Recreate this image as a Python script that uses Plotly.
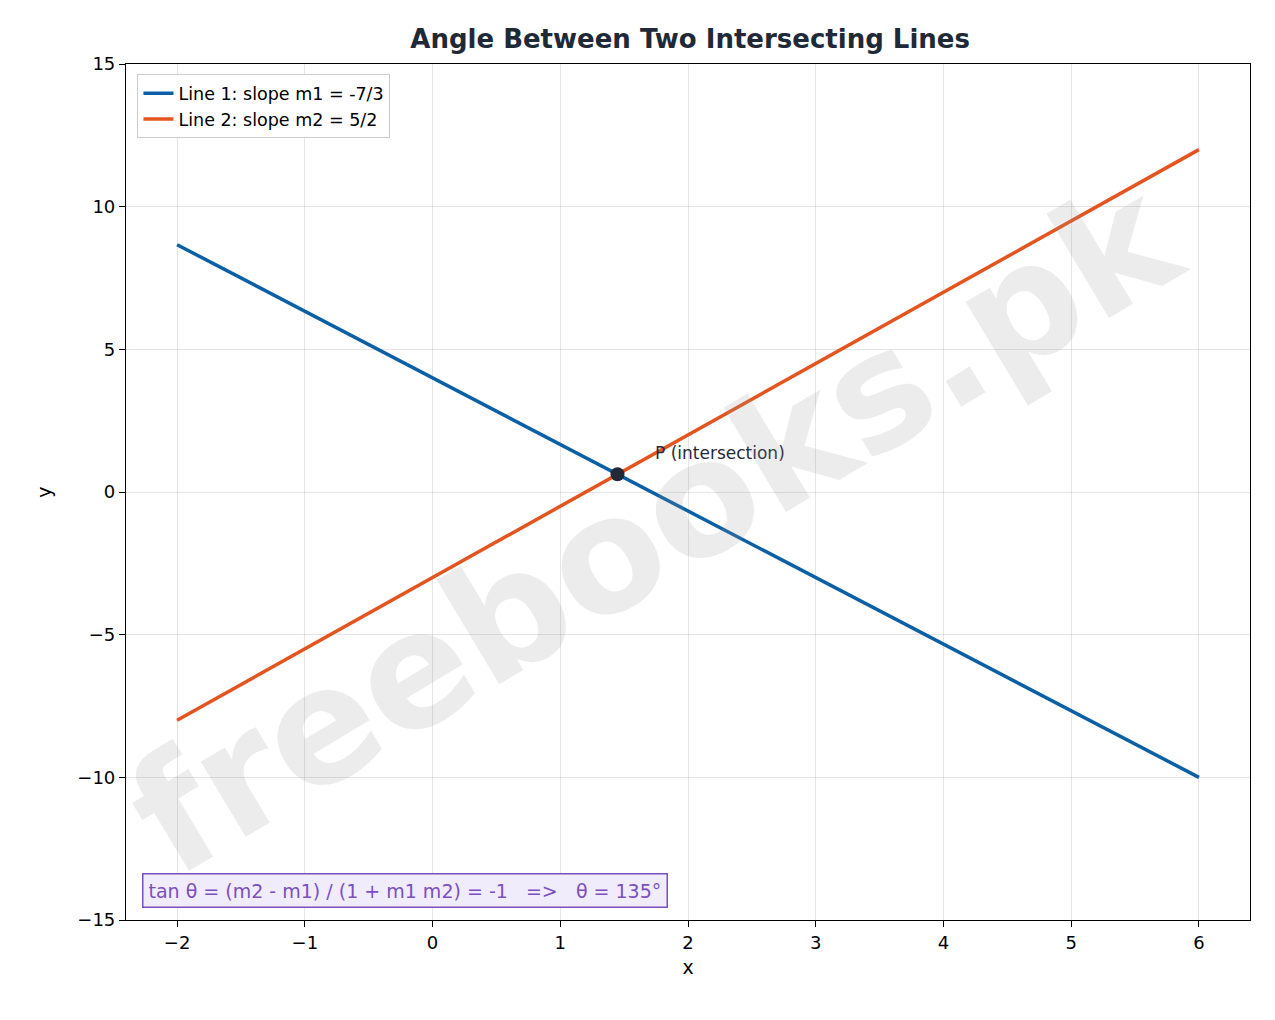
import plotly.graph_objects as go

# Line endpoints
xs = [-2, 6]
line1_y = [8.667, -10]   # y = -7/3 x + 4
line2_y = [-8, 12]       # y = 5/2 x - 3
px_x = [1.448]
px_y = [0.621]

blue = '#0b5fa5'
orange = '#e4541f'
font = 'DejaVu Sans'

fig = go.Figure()
fig.add_trace(go.Scatter(x=xs, y=line1_y, mode='lines', name='Line 1: slope m1 = -7/3',
                         line=dict(color=blue, width=3.5)))
fig.add_trace(go.Scatter(x=xs, y=line2_y, mode='lines', name='Line 2: slope m2 = 5/2',
                         line=dict(color=orange, width=3.5)))
fig.add_trace(go.Scatter(x=px_x, y=px_y, mode='markers', showlegend=False,
                         marker=dict(color='#1f2937', size=14)))

fig.add_annotation(x=px_x[0] + 0.28, y=px_y[0] + 0.75, text='P (intersection)', showarrow=False,
                   xanchor='left', font=dict(size=17, color='#1f2937', family=font))

# watermark
fig.add_annotation(x=0.47, y=0.46, xref='paper', yref='paper', text='<b>freebooks.pk</b>',
                   showarrow=False, textangle=-31, font=dict(size=160, color='rgba(150,150,150,0.18)', family=font))

fig.add_annotation(x=0.014, y=0.014, xref='paper', yref='paper', xanchor='left', yanchor='bottom',
                   text='tan θ = (m2 - m1) / (1 + m1 m2) = -1   =>   θ = 135°', showarrow=False,
                   font=dict(size=19, color='#7a4fc0', family=font),
                   bgcolor='#f1ecfb', bordercolor='#7a4fc0', borderwidth=1.5, borderpad=5)

axis = dict(showline=True, mirror=True, linecolor='black', linewidth=1.2, ticks='outside',
            tickcolor='black', ticklen=6, showgrid=True, gridcolor='rgba(0,0,0,0.1)',
            zeroline=False, tickfont=dict(size=18, color='black', family=font),
            title_font=dict(size=19, color='black', family=font))

fig.update_layout(
    width=1275, height=1020, plot_bgcolor='white', paper_bgcolor='white',
    margin=dict(l=118, r=33, t=56, b=108),
    title=dict(text='<b>Angle Between Two Intersecting Lines</b>', x=0.535, xanchor='center',
               y=0.97, yanchor='middle', font=dict(size=26, color='#1f2937', family=font)),
    xaxis=dict(axis, range=[-2.4, 6.4], tickvals=list(range(-2, 7)),
               ticktext=[str(v).replace('-', '−') for v in range(-2, 7)], title_text='x', title_standoff=8),
    yaxis=dict(axis, range=[-15, 15], tickvals=list(range(-15, 16, 5)),
               ticktext=[str(v).replace('-', '−') for v in range(-15, 16, 5)], title_text='y', title_standoff=20),
    legend=dict(x=0.01, y=0.988, xanchor='left', yanchor='top', bgcolor='white',
                bordercolor='#cccccc', borderwidth=1.2, font=dict(size=17.5, color='black', family=font)),
)

fig.write_html('out.html')
